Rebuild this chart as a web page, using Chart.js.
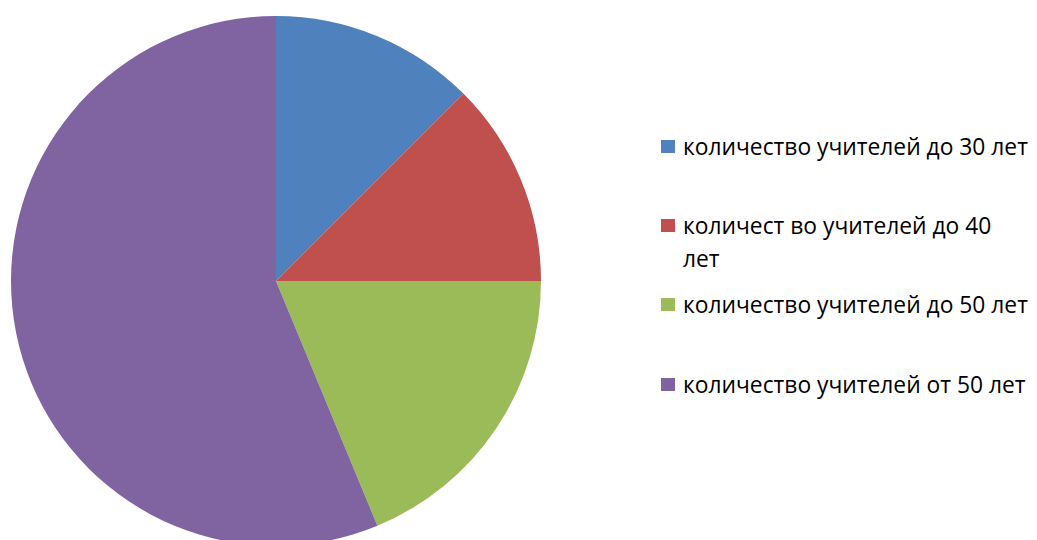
<!DOCTYPE html>
<html>
<head>
<meta charset="utf-8">
<script src="https://cdn.jsdelivr.net/npm/chart.js@4.4.0/dist/chart.umd.min.js"></script>
<style>
  html, body { margin: 0; padding: 0; background: #fff; overflow: hidden; width: 1037px; height: 540px; }
  #wrap { position: absolute; left: 0; top: 0; width: 552px; height: 562px; }
  #legend { position: absolute; left: 661px; top: 0; font-family: "Open Sans", sans-serif; font-size: 22.8px; color: #000; }
  .item { position: absolute; left: 0; white-space: nowrap; }
  .box { position: absolute; left: 0; width: 14px; height: 13px; }
  .txt { position: absolute; left: 22px; line-height: 33px; }
</style>
</head>
<body>
<div id="wrap"><canvas id="myChart"></canvas></div>
<div id="legend"></div>
<script>
const labels = [
	'количество учителей до 30 лет',
	['количест во учителей до 40', 'лет'],
	'количество учителей до 50 лет',
	'количество учителей от 50 лет'
];
const values = [2, 2, 3, 9];
const colors = ['#4F81BD', '#C0504D', '#9BBB59', '#8064A2'];
// vertical centre of each legend entry's first line
const legendRows = [147, 226, 305, 385];

const myChart = new Chart(document.getElementById('myChart').getContext('2d'), {
	type: 'pie',
	data: {
		labels: labels,
		datasets: [{
			data: values,
			backgroundColor: colors,
			borderWidth: 0
		}]
	},
	options: {
		responsive: true,
		maintainAspectRatio: false,
		animation: false,
		layout: { padding: 11 },
		plugins: {
			legend: { display: false },
			tooltip: { enabled: false }
		}
	}
});

const legend = document.getElementById('legend');
labels.forEach((lab, i) => {
	const item = document.createElement('div');
	item.className = 'item';
	item.style.top = (legendRows[i] - 17) + 'px';
	const box = document.createElement('div');
	box.className = 'box';
	box.style.background = colors[i];
	box.style.top = '10px';
	const txt = document.createElement('div');
	txt.className = 'txt';
	txt.innerHTML = (Array.isArray(lab) ? lab : [lab]).join('<br>');
	item.appendChild(box);
	item.appendChild(txt);
	legend.appendChild(item);
});
</script>
</body>
</html>
